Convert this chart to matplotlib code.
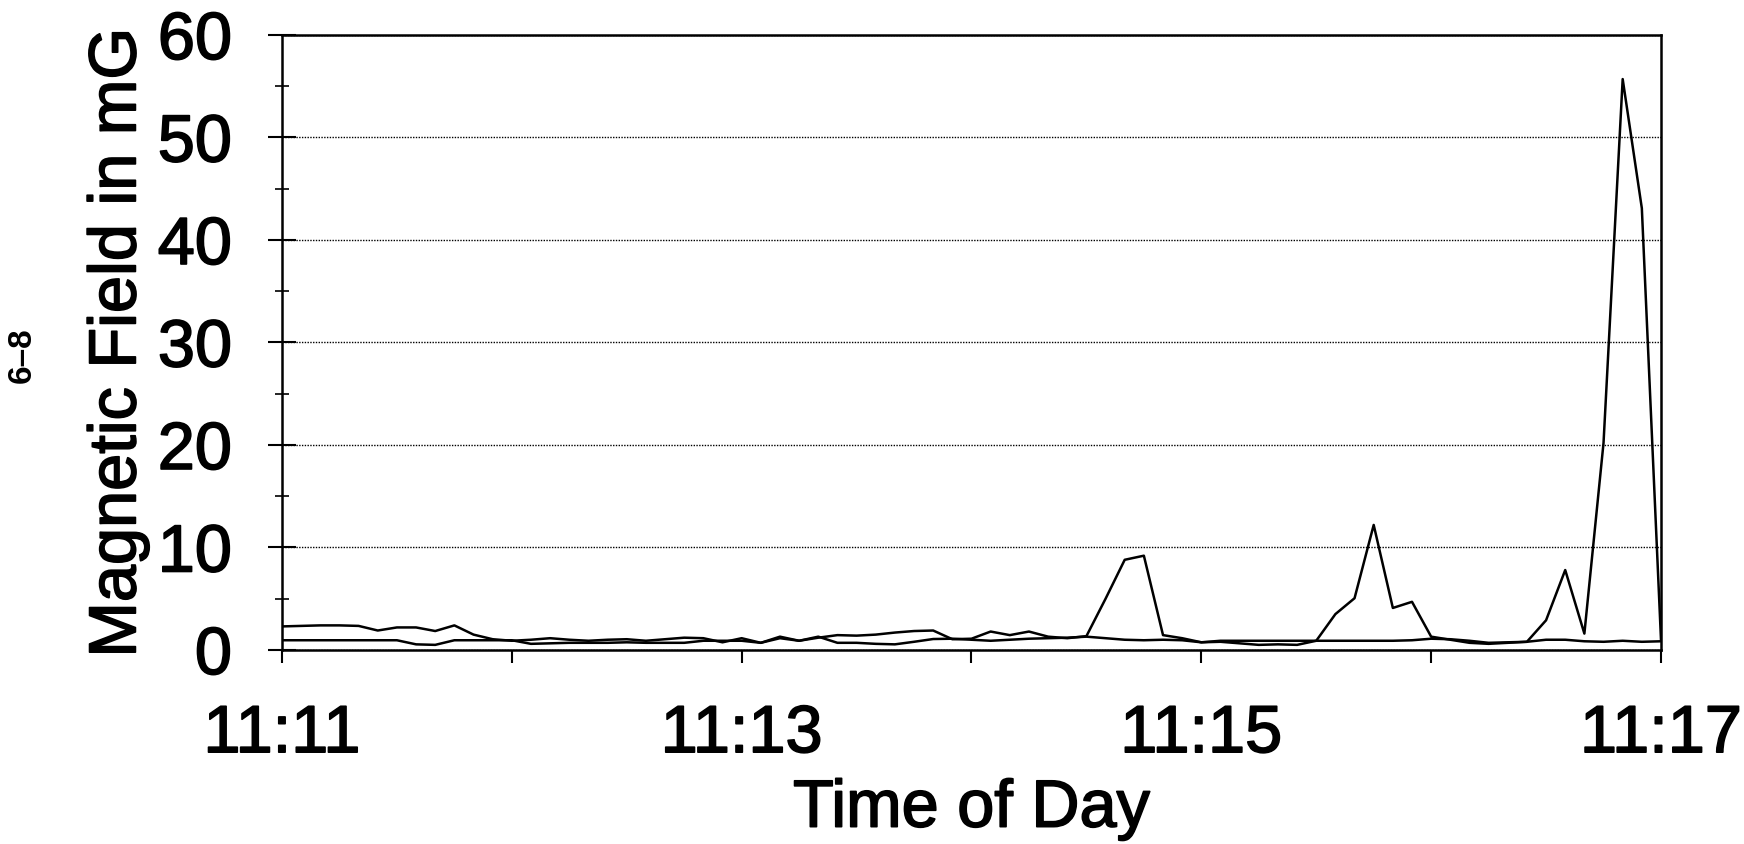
import matplotlib.pyplot as plt
import matplotlib.patheffects as pe
from matplotlib.ticker import MultipleLocator

plt.rcParams['font.family'] = ['Liberation Sans', 'DejaVu Sans']

# readings every 5 seconds from 11:11:00 to 11:17:00
segundos = list(range(0, 365, 5))

campo_a = [2.3, 2.35, 2.4, 2.4, 2.35, 1.9, 2.2, 2.2, 1.85, 2.4,
           1.5, 1.05, 0.9, 1.0, 1.15, 1.0, 0.9, 1.0, 1.05, 0.9,
           1.05, 1.2, 1.15, 0.75, 1.15, 0.7, 1.3, 0.9, 1.2, 1.45,
           1.4, 1.5, 1.7, 1.85, 1.9, 1.05, 1.1, 1.8, 1.45, 1.8,
           1.3, 1.15, 1.35, 5.0, 8.8, 9.2, 1.45, 1.15, 0.75, 0.8,
           0.65, 0.5, 0.55, 0.5, 0.9, 3.5, 5.05, 12.2, 4.1, 4.7,
           1.3, 1.0, 0.7, 0.6, 0.7, 0.8, 2.9, 7.8, 1.6, 20.2,
           55.7, 43.1, 1.0]

campo_b = [0.95, 0.95, 0.95, 0.95, 0.95, 0.95, 0.95, 0.55, 0.5, 0.95,
           0.95, 0.95, 0.95, 0.6, 0.65, 0.7, 0.7, 0.7, 0.75, 0.7,
           0.7, 0.7, 0.9, 0.9, 0.9, 0.7, 1.15, 0.9, 1.3, 0.7,
           0.7, 0.6, 0.55, 0.8, 1.07, 1.1, 1.0, 0.9, 1.0, 1.1,
           1.15, 1.2, 1.3, 1.15, 1.0, 0.95, 1.0, 0.95, 0.75, 0.9,
           0.9, 0.9, 0.9, 0.9, 0.9, 0.9, 0.9, 0.9, 0.9, 0.95,
           1.1, 1.05, 0.9, 0.7, 0.75, 0.8, 1.0, 1.0, 0.85, 0.8,
           0.9, 0.8, 0.85]

rotulos_x = ['11:11', '', '11:13', '', '11:15', '', '11:17']

minutos = [s / 60 for s in segundos]

fig = plt.figure(figsize=(17.44, 8.45), dpi=100)
ax = fig.add_axes([0.1617, 0.2296, 0.7907, 0.7278])

ax.plot(minutos, campo_a, color='black', lw=1.8)
ax.plot(minutos, campo_b, color='black', lw=1.8)

ax.set_xlim(0, 6)
ax.set_ylim(0, 60)

ax.set_xticks(range(7))
ax.set_xticklabels(rotulos_x)
ax.yaxis.set_major_locator(MultipleLocator(10))
ax.yaxis.set_minor_locator(MultipleLocator(5))

ax.tick_params(axis='x', direction='out', length=9, width=1.5,
               labelsize=48, pad=30)
ax.tick_params(axis='y', which='major', direction='inout', length=20,
               width=1.5, labelsize=48, pad=26)
ax.tick_params(axis='y', which='minor', direction='inout', length=10,
               width=1.2)

ax.grid(axis='y', which='major', linestyle=(0, (1, 1)), color='black', lw=1.0)

for s in ax.spines.values():
    s.set_linewidth(1.8)

ax.set_xlabel('Time of Day', fontsize=48, labelpad=9)
ax.set_ylabel('Magnetic Field in mG', fontsize=48, labelpad=6)

grosso = [pe.withStroke(linewidth=1.2, foreground='black')]
for t in ax.get_xticklabels() + ax.get_yticklabels():
    t.set_path_effects(grosso)
ax.xaxis.label.set_path_effects(grosso)
ax.yaxis.label.set_path_effects(grosso)

fig.text(0.0126, 0.58, '6–8', rotation=90, fontsize=24, fontweight='bold',
         ha='center', va='center')

plt.savefig('out.png', dpi=100)
